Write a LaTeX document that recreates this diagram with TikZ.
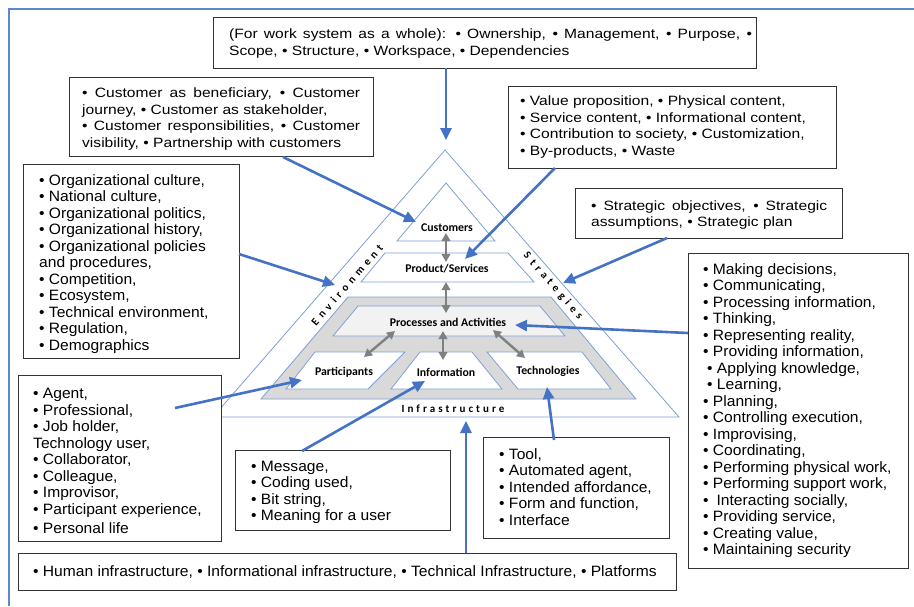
\documentclass[tikz,border=0pt]{standalone}
\usepackage{fontspec}
\setmainfont{Liberation Sans}
\newfontfamily\fA[FakeStretch=1.04]{Liberation Sans}
\newfontfamily\fB[FakeStretch=1.155]{Liberation Sans}
\newfontfamily\labf{Carlito}
\newfontfamily\labsp[LetterSpace=40]{Carlito}
\newfontfamily\labspi[LetterSpace=28]{Carlito}
\usetikzlibrary{arrows.meta}
\definecolor{blu}{HTML}{4472C4}
\definecolor{lblu}{HTML}{7F9FD6}
\definecolor{gfill}{HTML}{D9D9D9}
\definecolor{pfill}{HTML}{F2F2F2}
\definecolor{garr}{HTML}{808080}
\tikzset{
  boxframe/.style={draw=black!80, line width=1.1pt, anchor=north west, inner sep=0pt, fill=white},
  boxtext/.style={anchor=west, align=left, inner sep=0pt},
  fontA/.style={font=\fA\fontsize{15}{16.5}\selectfont},
  fontB/.style={font=\fB\fontsize{13.5}{16.7}\selectfont},
  blarrow/.style={draw=blu, line width=2.6pt, -{Triangle[length=12pt,width=11pt]}},
  grarrow/.style={draw=garr, line width=2.4pt, {Triangle[length=8pt,width=8.5pt]}-{Triangle[length=8pt,width=8.5pt]}},
  pyr/.style={draw=lblu, line width=0.8pt},
  plab/.style={font=\labf\bfseries\fontsize{11.8}{13}\selectfont, text=black, inner sep=1pt},
  splab/.style={font=\labsp\bfseries\fontsize{11}{13}\selectfont, text=black, inner sep=1pt},
  splabi/.style={font=\labspi\bfseries\fontsize{11}{13}\selectfont, text=black, inner sep=1pt},
  frame/.style={draw=blu!85, line width=2pt}
}
\begin{document}
\begin{tikzpicture}[x=1pt,y=-1pt]
\useasboundingbox (0,0) rectangle (914,606);
\draw[frame] (9,606) -- (9,9) -- (914,9);

% pyramid shapes
\draw[pyr, fill=white] (213,417) -- (445,150) -- (679,417) -- cycle;
\draw[pyr, fill=white] (397,241) -- (446,183) -- (495,241) -- cycle;
\draw[pyr, fill=white] (385,253) -- (508,253) -- (534,282) -- (361,282) -- cycle;
\draw[pyr, fill=gfill] (348,297) -- (551,297) -- (636,399) -- (261,399) -- cycle;
\draw[pyr, fill=pfill] (358,306) -- (540,306) -- (565,336) -- (333,336) -- cycle;
\draw[pyr, fill=white] (315,352) -- (405,352) -- (368,389) -- (286,389) -- cycle;
\draw[pyr, fill=white] (420,352) -- (472,352) -- (502,389) -- (391,389) -- cycle;
\draw[pyr, fill=white] (487,352) -- (582,352) -- (611,389) -- (518,389) -- cycle;

% pyramid labels
\node[plab] (lcust) at (447,228) {Customers};
\node[plab] (lprod) at (447,269) {Product/Services};
\node[plab] (lproc) at (448,322) {Processes and Activities};
\node[plab] (lpart) at (344,372) {Participants};
\node[plab] (linfo) at (446,372) {Information};
\node[plab] (ltech) at (548,371) {Technologies};
\node[splabi] (linfra) at (453,409) {Infrastructure};
\node[splab, rotate=49] (lenv) at (347,285) {Environment};
\node[splab, rotate=-49] (lstrat) at (553,286) {Strategies};

% gray double arrows
\coordinate (g1a) at (446,233); \coordinate (g1b) at (446,262);
\coordinate (g2a) at (446,282); \coordinate (g2b) at (446,313);
\coordinate (g3a) at (395,331); \coordinate (g3b) at (364,357);
\coordinate (g4a) at (443,331); \coordinate (g4b) at (443,360);
\coordinate (g5a) at (493,330); \coordinate (g5b) at (525,358);
\draw[grarrow] (g1a) -- (g1b);
\draw[grarrow] (g2a) -- (g2b);
\draw[grarrow] (g3a) -- (g3b);
\draw[grarrow] (g4a) -- (g4b);
\draw[grarrow] (g5a) -- (g5b);

% boxes (frames)
\node[boxframe, minimum width=543pt, minimum height=51pt] (topbox) at (213,17) {};
\node[boxframe, minimum width=304pt, minimum height=79pt] (custbox) at (69,77) {};
\node[boxframe, minimum width=328pt, minimum height=82pt] (prodbox) at (508,86) {};
\node[boxframe, minimum width=267pt, minimum height=50pt] (stratbox) at (575,188) {};
\node[boxframe, minimum width=216pt, minimum height=194pt] (envbox) at (23,164) {};
\node[boxframe, minimum width=220pt, minimum height=315pt] (procbox) at (688,253) {};
\node[boxframe, minimum width=203pt, minimum height=166pt] (partbox) at (18,375) {};
\node[boxframe, minimum width=215pt, minimum height=80pt] (infobox) at (235,450) {};
\node[boxframe, minimum width=186pt, minimum height=101pt] (techbox) at (483,437) {};
\node[boxframe, minimum width=658pt, minimum height=37pt] (infrabox) at (18,553) {};

% box texts
\node[boxtext, fontB] (toptext) at (229,43.5)
 {\makebox[523pt][s]{(For work system as a whole): • Ownership, • Management, • Purpose, •}\\
  Scope, • Structure, • Workspace, • Dependencies};
\node[boxtext, fontB] (custtext) at (82,119)
 {\makebox[278pt][s]{• Customer as beneficiary, • Customer}\\
  journey, • Customer as stakeholder,\\
  \makebox[278pt][s]{• Customer responsibilities, • Customer}\\
  visibility, • Partnership with customers};
\node[boxtext, fontB] (prodtext) at (520,127)
 {• Value proposition, • Physical content,\\
  • Service content, • Informational content,\\
  • Contribution to society, • Customization,\\
  • By-products, • Waste};
\node[boxtext, fontB] (strattext) at (591,215)
 {\makebox[236pt][s]{• Strategic objectives, • Strategic}\\
  assumptions, • Strategic plan};
\node[boxtext, fontA] (envtext) at (39,264)
 {• Organizational culture,\\
  • National culture,\\
  • Organizational politics,\\
  • Organizational history,\\
  • Organizational policies\\
  and procedures,\\
  • Competition,\\
  • Ecosystem,\\
  • Technical environment,\\
  • Regulation,\\
  • Demographics};
\node[boxtext, fontA] (proctext) at (703,410.5)
 {• Making decisions,\\
  • Communicating,\\
  • Processing information,\\
  • Thinking,\\
  • Representing reality,\\
  • Providing information,\\
  \hspace*{4pt}• Applying knowledge,\\
  \hspace*{4pt}• Learning,\\
  • Planning,\\
  • Controlling execution,\\
  • Improvising,\\
  • Coordinating,\\
  • Performing physical work,\\
  • Performing support work,\\
  •\hspace{8pt}Interacting socially,\\
  • Providing service,\\
  • Creating value,\\
  • Maintaining security};
\node[boxtext, fontA] (parttext) at (33,461)
 {• Agent,\\
  • Professional,\\
  • Job holder,\\
  Technology user,\\
  • Collaborator,\\
  • Colleague,\\
  • Improvisor,\\
  • Participant experience,\\[3pt]
  • Personal life};
\node[boxtext, fontA] (infotext) at (251,492.5)
 {• Message,\\
  • Coding used,\\
  • Bit string,\\
  • Meaning for a user};
\node[boxtext, fontA] (techtext) at (499,487)
 {• Tool,\\
  • Automated agent,\\
  • Intended affordance,\\
  • Form and function,\\
  • Interface};
\node[boxtext, fontA] (infratext) at (33,572)
 {• Human infrastructure, • Informational infrastructure, • Technical Infrastructure, • Platforms};

% blue arrows
\coordinate (s1) at (446,68);  \coordinate (t1) at (446,140);
\coordinate (s2) at (283,157); \coordinate (t2) at (416,222);
\coordinate (s3) at (555,168); \coordinate (t3) at (465,259);
\coordinate (s4) at (667,238); \coordinate (t4) at (563,283);
\coordinate (s5) at (239,254); \coordinate (t5) at (335,285);
\coordinate (s6) at (688,333); \coordinate (t6) at (515,325);
\coordinate (s7) at (175,408); \coordinate (t7) at (302,380);
\coordinate (s8) at (302,451); \coordinate (t8) at (425,381);
\coordinate (s9) at (554,440); \coordinate (t9) at (547,387);
\coordinate (s10) at (466,553); \coordinate (t10) at (466,421);
\draw[blarrow] (s1) -- (t1);
\draw[blarrow] (s2) -- (t2);
\draw[blarrow] (s3) -- (t3);
\draw[blarrow] (s4) -- (t4);
\draw[blarrow] (s5) -- (t5);
\draw[blarrow] (s6) -- (t6);
\draw[blarrow] (s7) -- (t7);
\draw[blarrow] (s8) -- (t8);
\draw[blarrow] (s9) -- (t9);
\draw[blarrow] (s10) -- (t10);
\end{tikzpicture}
\end{document}
